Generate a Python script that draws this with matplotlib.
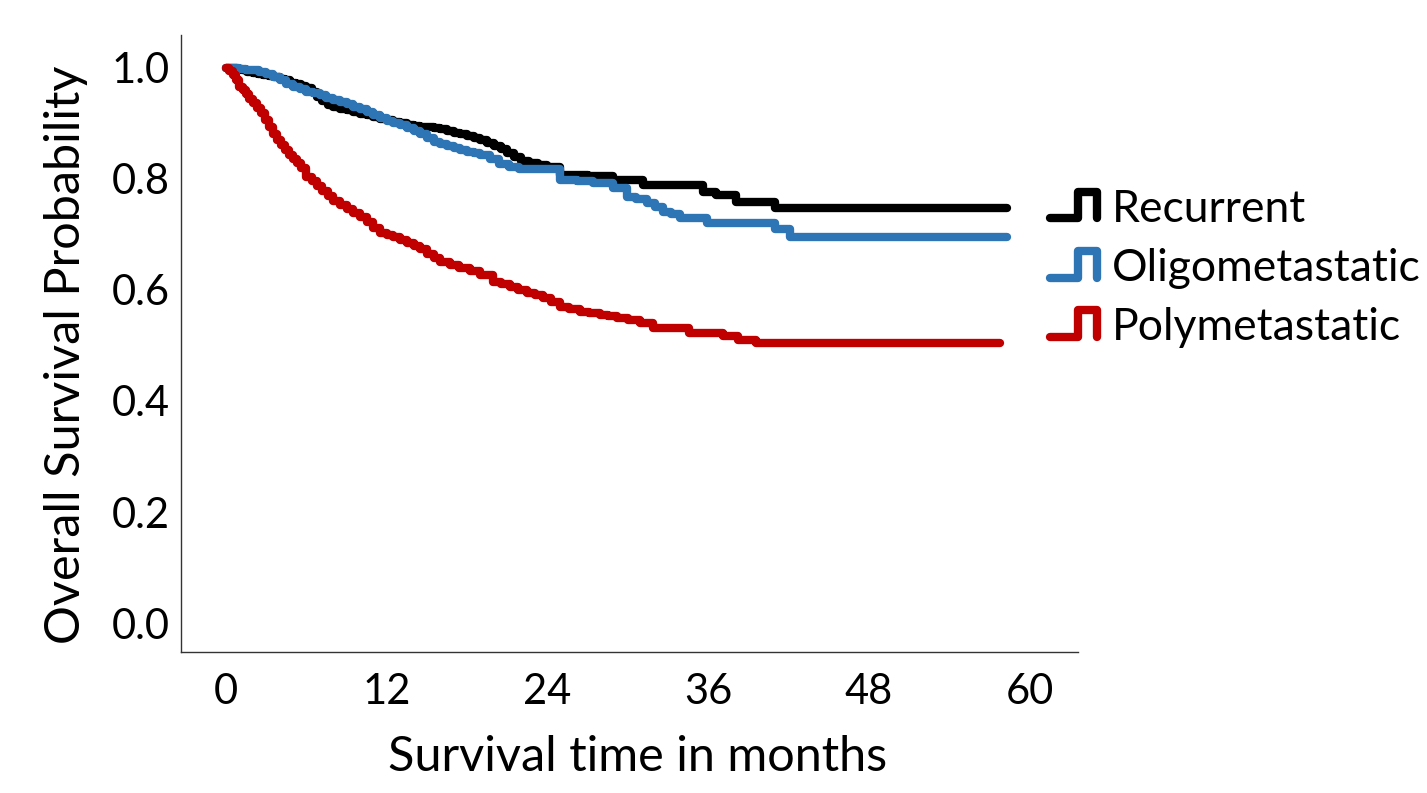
import matplotlib.pyplot as plt
from matplotlib.lines import Line2D
from matplotlib.legend_handler import HandlerLine2D

# Kaplan-Meier curves (months, survival probability)
rec_t = [0, 0.4, 0.8, 1.2, 1.6, 2.0, 2.4, 2.8, 3.2, 3.6, 4.0, 4.4, 4.8, 5.2, 5.6,
         6.0, 6.4, 6.8, 7.2, 7.6, 8.0,
         8.5, 9.0, 9.5, 10.0, 10.5, 11.0, 11.5, 12.0, 12.5, 13.0, 13.5, 14.0, 14.5,
         15.0, 15.5, 16.0, 16.5, 17.0, 17.5, 18.0, 18.5, 19.0, 19.5, 20.0, 20.5,
         21.0, 21.5, 22.0,
         22.6, 23.3, 24.0, 24.9, 27.0, 28.9, 31.1, 35.6, 36.6, 38.1, 41.0, 58.3]
rec_s = [1.0, 0.999, 0.997, 0.995, 0.993, 0.991, 0.989, 0.987, 0.985, 0.983,
         0.980, 0.977, 0.973, 0.970, 0.967, 0.964, 0.957, 0.948, 0.940, 0.933,
         0.929,
         0.926, 0.923, 0.920, 0.917, 0.914, 0.911, 0.908, 0.905, 0.903, 0.900,
         0.897, 0.895, 0.894, 0.893, 0.891, 0.889, 0.886, 0.883, 0.880, 0.877,
         0.874, 0.870, 0.865, 0.859, 0.853, 0.846, 0.839, 0.832,
         0.828, 0.825, 0.822, 0.807, 0.805, 0.798, 0.789, 0.777, 0.771, 0.759,
         0.748, 0.748]

oli_t = [0, 0.5, 1.0, 1.5, 2.0, 2.5, 3.0, 3.5, 4.0, 4.5, 5.0, 5.5, 6.0, 6.5, 7.0,
         7.5, 8.0, 8.5, 9.0, 9.5, 10.0, 10.5, 11.0, 11.5, 12.0, 12.5, 13.0, 13.5,
         14.0, 14.5, 15.0, 15.5, 16.0, 16.5, 17.0, 17.5, 18.0, 18.5, 19.0,
         19.7, 20.4, 21.1, 21.9, 24.9, 26.2, 27.4, 28.9, 29.9, 30.6, 31.4, 32.0,
         32.6, 33.2, 33.9, 35.9, 41.0, 42.1, 58.3]
oli_s = [1.0, 0.999, 0.998, 0.996, 0.995, 0.993, 0.988, 0.983, 0.977, 0.971,
         0.966, 0.961, 0.957, 0.954, 0.950, 0.946, 0.942, 0.938, 0.934, 0.929,
         0.925, 0.920, 0.915, 0.910, 0.904, 0.900, 0.896, 0.891, 0.886, 0.880,
         0.873, 0.866, 0.862, 0.859, 0.856, 0.852, 0.849, 0.846, 0.842,
         0.836, 0.827, 0.822, 0.818, 0.798, 0.796, 0.793, 0.784, 0.768, 0.764,
         0.757, 0.750, 0.741, 0.736, 0.730, 0.721, 0.710, 0.696, 0.696]

pol_t = [0, 0.25, 0.5, 0.75, 1.0, 1.25, 1.5, 1.75, 2.0, 2.3, 2.6, 2.9, 3.2, 3.5,
         3.8, 4.1, 4.4, 4.7, 5.0, 5.3, 5.6, 6.0, 6.4, 6.8, 7.2, 7.6, 8.0, 8.5,
         9.0, 9.5, 10.0, 10.5, 11.0, 11.5, 12.0, 12.5, 13.0, 13.5, 14.0, 14.5,
         15.0, 15.5, 16.0, 16.7, 17.4, 18.2, 19.0, 19.9, 20.5, 21.2, 21.8, 22.5,
         23.1, 23.7, 24.3, 24.9, 25.6, 26.4, 27.1, 27.9, 28.5, 29.2, 30.0, 30.9,
         31.9, 34.6, 37.1, 38.2, 39.6, 57.8]
pol_s = [1.0, 0.994, 0.987, 0.978, 0.966, 0.959, 0.952, 0.944, 0.937, 0.928,
         0.918, 0.906, 0.893, 0.880, 0.870, 0.860, 0.851, 0.843, 0.836, 0.828,
         0.820, 0.804, 0.796, 0.787, 0.778, 0.769, 0.760, 0.753, 0.746, 0.739,
         0.731, 0.722, 0.712, 0.703, 0.699, 0.695, 0.690, 0.685, 0.679, 0.673,
         0.665, 0.657, 0.650, 0.645, 0.640, 0.634, 0.627, 0.614, 0.610, 0.605,
         0.600, 0.595, 0.591, 0.586, 0.578, 0.569, 0.565, 0.560, 0.558, 0.555,
         0.553, 0.550, 0.546, 0.541, 0.532, 0.522, 0.517, 0.510, 0.504, 0.504]

groups = ["Recurrent", "Oligometastatic", "Polymetastatic"]
colors = ["#000000", "#2E75B6", "#C00000"]

x_ticks = [0, 12, 24, 36, 48, 60]
y_ticks = [0.0, 0.2, 0.4, 0.6, 0.8, 1.0]

plt.rcParams['font.family'] = ['Lato', 'DejaVu Sans']


class StepHandler(HandlerLine2D):
    # the little step icon used in the legend
    def create_artists(self, legend, orig_handle, xdescent, ydescent,
                       width, height, fontsize, trans):
        x0 = -xdescent
        y0 = -ydescent
        lo = y0 + 0.1 * height
        hi = y0 + 0.95 * height
        xm = x0 + 0.6 * width
        xs = [x0, xm, xm, x0 + width, x0 + width]
        ys = [lo, lo, hi, hi, lo]
        line = Line2D(xs, ys, color=orig_handle.get_color(),
                      lw=orig_handle.get_linewidth(),
                      solid_capstyle="round", solid_joinstyle="round")
        line.set_transform(trans)
        return [line]


fig = plt.figure(figsize=(14.27, 7.93), dpi=100)
ax = fig.add_axes([0.1268, 0.1778, 0.6286, 0.7782])

series = [(rec_t, rec_s), (oli_t, oli_s), (pol_t, pol_s)]
handles = []
for (t, s), name, c in zip(series, groups, colors):
    h, = ax.step(t, s, where="post", color=c, lw=6, label=name,
                 solid_capstyle="round", solid_joinstyle="round")
    handles.append(h)

ax.set_xlim(-3.36, 63.6)
ax.set_ylim(-0.052, 1.059)
ax.set_xticks(x_ticks)
ax.set_yticks(y_ticks)
ax.set_yticklabels([f"{v:.1f}" for v in y_ticks])
ax.tick_params(length=0, labelsize=30)
ax.tick_params(axis="x", pad=15)
ax.tick_params(axis="y", pad=8)

for side in ["top", "right"]:
    ax.spines[side].set_visible(False)
for side in ["left", "bottom"]:
    ax.spines[side].set_linewidth(1.0)
    ax.spines[side].set_color("#333333")

ax.set_xlabel("Survival time in months", fontsize=35)
ax.set_ylabel("Overall Survival Probability", fontsize=35)
ax.xaxis.set_label_coords(0.509, -0.134)
ax.yaxis.set_label_coords(-0.104, 0.481)

leg = ax.legend(handles=handles, loc="upper left", bbox_to_anchor=(0.969, 0.751),
                frameon=False, fontsize=32, handlelength=1.06, handletextpad=0.34,
                labelspacing=0.41, borderaxespad=0.0, borderpad=0.0,
                handler_map={Line2D: StepHandler()})

fig.savefig("out.png", dpi=100)
